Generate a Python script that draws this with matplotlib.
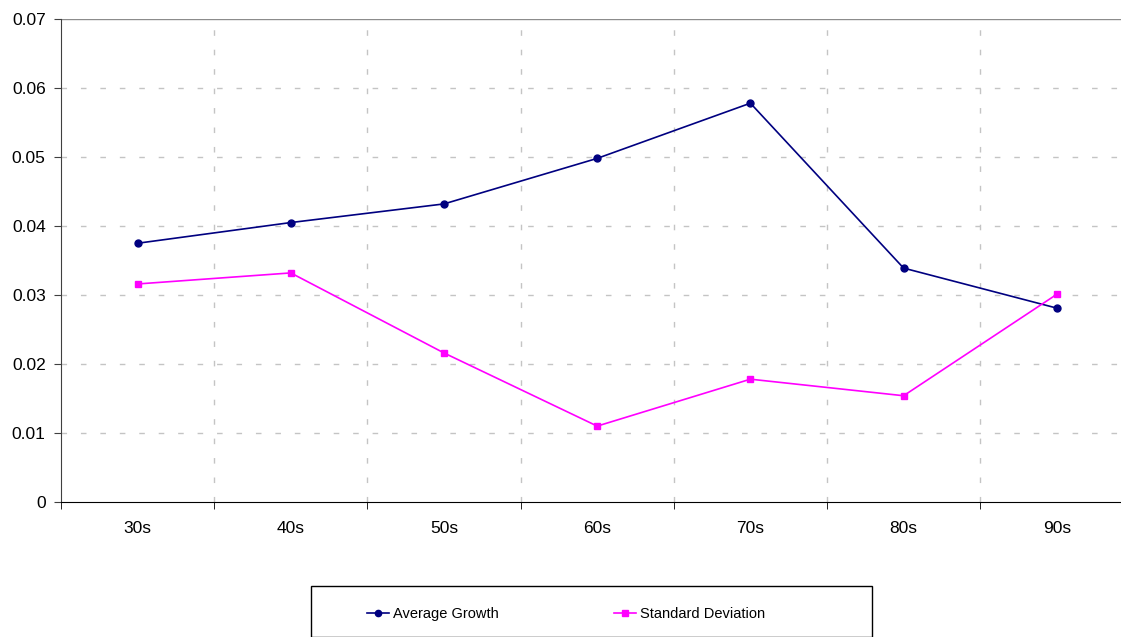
import numpy as np
import matplotlib.pyplot as plt
from matplotlib.patches import Rectangle

plt.rcParams['font.family'] = ['Liberation Sans', 'DejaVu Sans']

decades = ['30s', '40s', '50s', '60s', '70s', '80s', '90s']
avg_growth = [0.0375, 0.0405, 0.0432, 0.0498, 0.0578, 0.0339, 0.0281]
std_dev = [0.0316, 0.0332, 0.0216, 0.0110, 0.0178, 0.0154, 0.0301]

fig = plt.figure(figsize=(11.21, 6.37), dpi=100)
ax = fig.add_axes([61 / 1121, 1 - 502 / 637, 1060 / 1121, 483 / 637])

x = np.arange(len(decades))
ax.plot(x, avg_growth, color='#000080', lw=1.2, marker='o', ms=5,
        label='Average Growth', clip_on=False, zorder=3)
ax.plot(x, std_dev, color='#FF00FF', lw=1.2, marker='s', ms=5,
        label='Standard Deviation', clip_on=False, zorder=3)

ax.set_yticks(np.arange(0, 0.071, 0.01))
ax.set_yticklabels(['0', '0.01', '0.02', '0.03', '0.04', '0.05', '0.06', '0.07'])
ax.set_xticks(x)
ax.set_xticklabels(decades)
ax.set_xticks(np.arange(-0.5, 6.4, 1), minor=True)
ax.set_xlim(-0.5, -0.5 + 1060 / 153.2)
ax.set_ylim(0, 0.07)

# gridlines
for yv in np.arange(0.01, 0.065, 0.01):
    ax.axhline(yv, color='#C4C4C4', lw=1, ls=(0, (4, 10)), zorder=1)
for xv in np.arange(0.5, 6.5, 1):
    ax.axvline(xv, color='#C4C4C4', lw=1, ls=(0, (4, 10)), zorder=1)
ax.axhline(0.07, color='#8C8C8C', lw=1, zorder=1)

ax.spines['top'].set_visible(False)
ax.spines['right'].set_visible(False)
ax.spines['left'].set_color('#404040')
ax.spines['bottom'].set_color('black')

ax.tick_params(axis='x', which='major', length=0, pad=14, labelsize=12.5)
ax.tick_params(axis='x', which='minor', length=5, direction='out', color='black')
ax.tick_params(axis='y', length=5, direction='out', color='#404040', labelsize=12.5, pad=6)

# legend box
fig.patches.append(Rectangle((311 / 1121, 0), 561 / 1121, 51 / 637,
                             transform=fig.transFigure, fill=False,
                             edgecolor='black', lw=1))
fig.legend(loc='center left', bbox_to_anchor=(367 / 1121, 1 - 614 / 637), ncol=2,
           frameon=False, fontsize=10.5, handlelength=1.5, handletextpad=0.3,
           columnspacing=7.9, borderpad=0, borderaxespad=0, markerscale=0.9)

fig.savefig('out.png', dpi=100)
